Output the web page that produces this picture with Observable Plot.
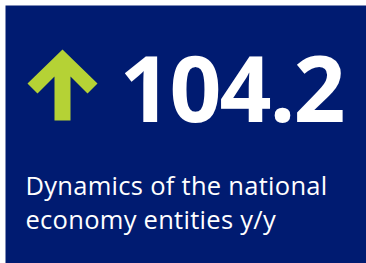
<!DOCTYPE html>
<html>
<head>
<meta charset="utf-8">
<script src="https://cdn.jsdelivr.net/npm/d3@7"></script>
<script src="https://cdn.jsdelivr.net/npm/@observablehq/plot@0.6"></script>
<style>
  html, body { margin: 0; padding: 0; background: white; }
  svg { display: block; }
</style>
</head>
<body>
<div id="chart"></div>
<script>
// KPI data
const kpiValue = [104.2];
const trendDirection = ["up"];
const captionLines = ["Dynamics of the national", "economy entities y/y"];

const navy = "#001b71";
const lime = "#b5d235";

// Up-arrow symbol (normalized geometry, scaled by r)
const arrowUp = {
  draw(context, size) {
    const r = Math.sqrt(size / Math.PI) / 36;
    const pts = [[0,-36],[35,-2],[25,8],[8,-9],[8,35],[-8,35],[-8,-9],[-25,8],[-35,-2]];
    context.moveTo(pts[0][0]*r, pts[0][1]*r);
    for (let i = 1; i < pts.length; i++) context.lineTo(pts[i][0]*r, pts[i][1]*r);
    context.closePath();
  }
};

const chart = Plot.plot({
  width: 366,
  height: 263,
  margin: 0,
  style: { background: "white", overflow: "visible" },
  marks: [
    Plot.frame({ fill: navy, stroke: null, insetLeft: 5, insetTop: 5 }),
    Plot.dot(trendDirection, {
      frameAnchor: "top-left", dx: 62, dy: 85,
      r: 36, symbol: arrowUp, fill: lime, stroke: null
    }),
    Plot.text(kpiValue, {
      frameAnchor: "top-left", dx: 119, dy: 57,
      text: d => d.toFixed(1),
      textAnchor: "start", lineAnchor: "top",
      fontSize: 91, fontWeight: 700, fontFamily: "Open Sans",
      fill: "white"
    }),
    Plot.text([captionLines.join("\n")], {
      frameAnchor: "top-left", dx: 25, dy: 171,
      text: d => d,
      textAnchor: "start", lineAnchor: "top",
      lineHeight: 1.32,
      fontSize: 25.5, fontWeight: 400, fontFamily: "Open Sans",
      fill: "white"
    })
  ]
});
document.getElementById("chart").appendChild(chart);
// fine-tune letter spacing to match the reference typeface widths
d3.select(chart).selectAll("text").each(function() {
  const t = this.textContent;
  if (t === kpiValue[0].toFixed(1)) this.setAttribute("letter-spacing", "-2");
  else if (t.startsWith("Dynamics")) this.setAttribute("letter-spacing", "0.28");
});
</script>
</body>
</html>
